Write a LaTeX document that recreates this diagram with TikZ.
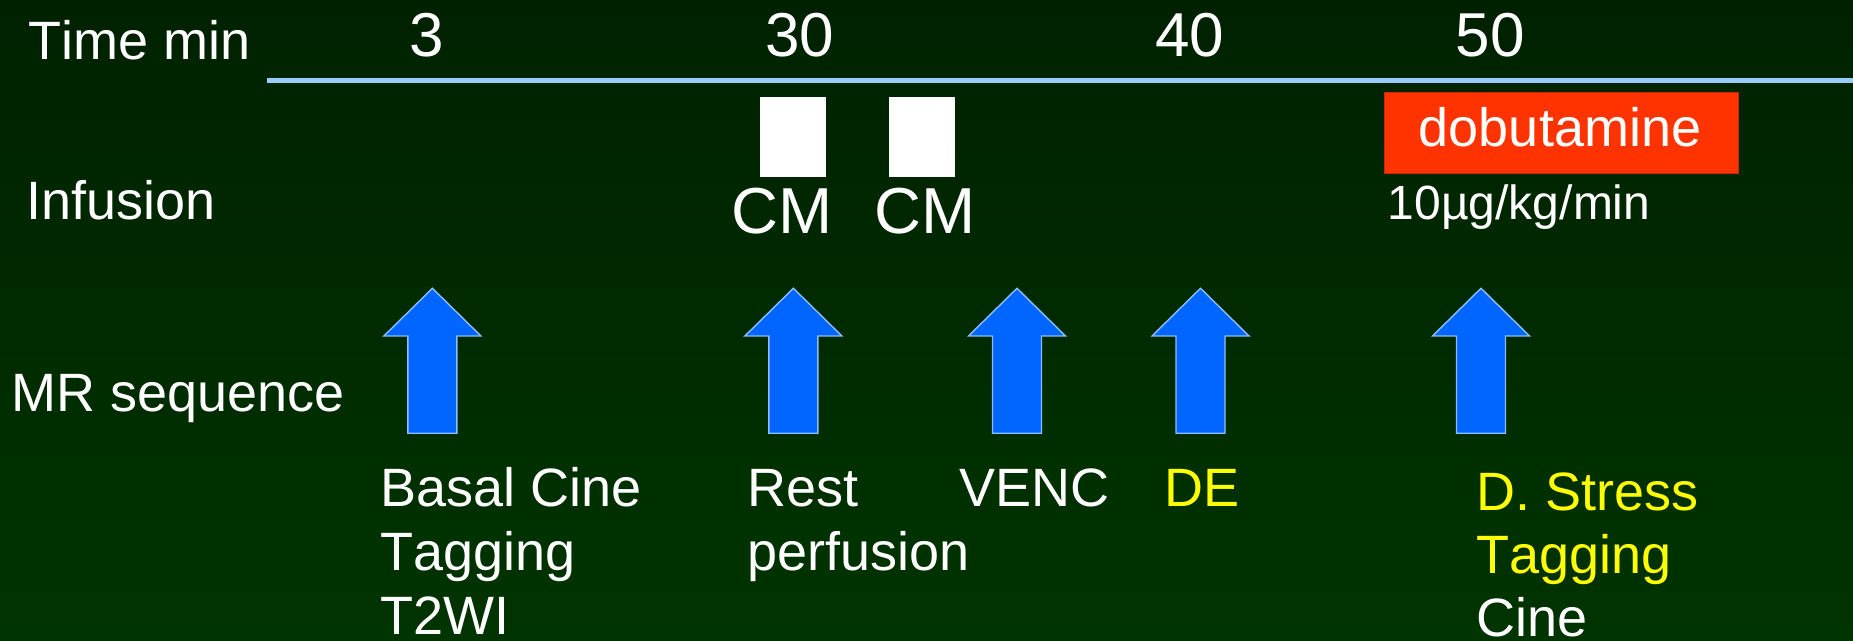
\documentclass[tikz,border=0pt]{standalone}
\usepackage{fontspec}
\setmainfont{Liberation Sans}[Kerning=Off]
\definecolor{bgtop}{RGB}{0,33,0}
\definecolor{bgbot}{RGB}{0,52,0}
\definecolor{axisblue}{RGB}{153,204,255}
\definecolor{arrowblue}{RGB}{0,102,255}
\definecolor{arrowedge}{RGB}{140,190,255}
\definecolor{dobured}{RGB}{255,51,0}
\definecolor{doboedge}{RGB}{200,40,0}
\definecolor{hiyellow}{RGB}{255,255,0}
\begin{document}
\begin{tikzpicture}[x=0.5pt,y=-0.5pt,
  lbl/.style={text=white,inner sep=0pt,anchor=base west,font=\fontsize{27pt}{32pt}\selectfont},
  numlbl/.style={text=white,inner sep=0pt,anchor=base,font=\fontsize{31pt}{36pt}\selectfont},
  cmlbl/.style={text=white,inner sep=0pt,anchor=base,font=\fontsize{32.5pt}{38pt}\selectfont},
  doselbl/.style={text=white,inner sep=0pt,anchor=base west,font=\fontsize{24pt}{28pt}\selectfont},
  ylbl/.style={lbl,text=hiyellow},
  cmbox/.style={fill=white,draw=none},
  dobobox/.style={fill=dobured,draw=doboedge,line width=0.5pt},
  mrarrow/.style={fill=arrowblue,draw=arrowedge,line width=0.7pt,line join=miter},
  axisline/.style={draw=axisblue,line width=2.5pt}
]
\useasboundingbox (0,0) rectangle (1853,641);
\shade[top color=bgtop,bottom color=bgbot] (0,0) rectangle (1853,641);

% row labels
\node[lbl] (timelbl) at (28.5,60) {Time min};
\node[lbl] (inflbl) at (26.5,220) {Infusion};
\node[lbl] (mrlbl) at (11.5,411.7) {MR sequence};

% time axis
\coordinate (axl) at (267,80.8);
\coordinate (axr) at (1853,80.8);
\draw[axisline] (axl) -- (axr);
\node[numlbl] (t3) at (427,57) {3};
\node[numlbl] (t30) at (800,57) {30};
\node[numlbl] (t40) at (1189.5,57) {40};
\node[numlbl] (t50) at (1490,57) {50};

% contrast medium boxes
\path[cmbox] (760,96.7) rectangle (826,177.3);
\path[cmbox] (889,96.7) rectangle (954.5,177.3);
\node[cmlbl] (cm1) at (782,233.3) {CM};
\node[cmlbl] (cm2) at (925.5,233.3) {CM};

% dobutamine
\path[dobobox] (1384.6,92.7) rectangle (1738.4,174);
\node[lbl,anchor=base] (dobu) at (1560,146.7) {dobutamine};
\node[doselbl] (dose) at (1387.5,220) {10µg/kg/min};

% MR arrows
\foreach \c/\n in {432.4/a1,793.4/a2,1017/a3,1200.5/a4,1481/a5}{
  \draw[mrarrow] (\c-24.5,433.3) -- (\c-24.5,336) -- (\c-48.5,336) -- (\c,288.3)
    -- (\c+48.5,336) -- (\c+24.5,336) -- (\c+24.5,433.3) -- cycle;
}

% sequence labels
\node[lbl] (basal1) at (380,506.7) {Basal Cine};
\node[lbl] (basal2) at (380,570.5) {Tagging};
\node[lbl] (basal3) at (380,634.5) {T2WI};
\node[lbl] (rest1) at (747.5,506.7) {Rest};
\node[lbl] (rest2) at (747.5,570.5) {perfusion};
\node[lbl] (venc) at (959,506.7) {VENC};
\node[ylbl] (de) at (1164,506.7) {DE};
\node[ylbl] (stress1) at (1476,510.5) {D. Stress};
\node[ylbl] (stress2) at (1476,573.5) {Tagging};
\node[lbl] (stress3) at (1476,636.7) {Cine};
\end{tikzpicture}
\end{document}
